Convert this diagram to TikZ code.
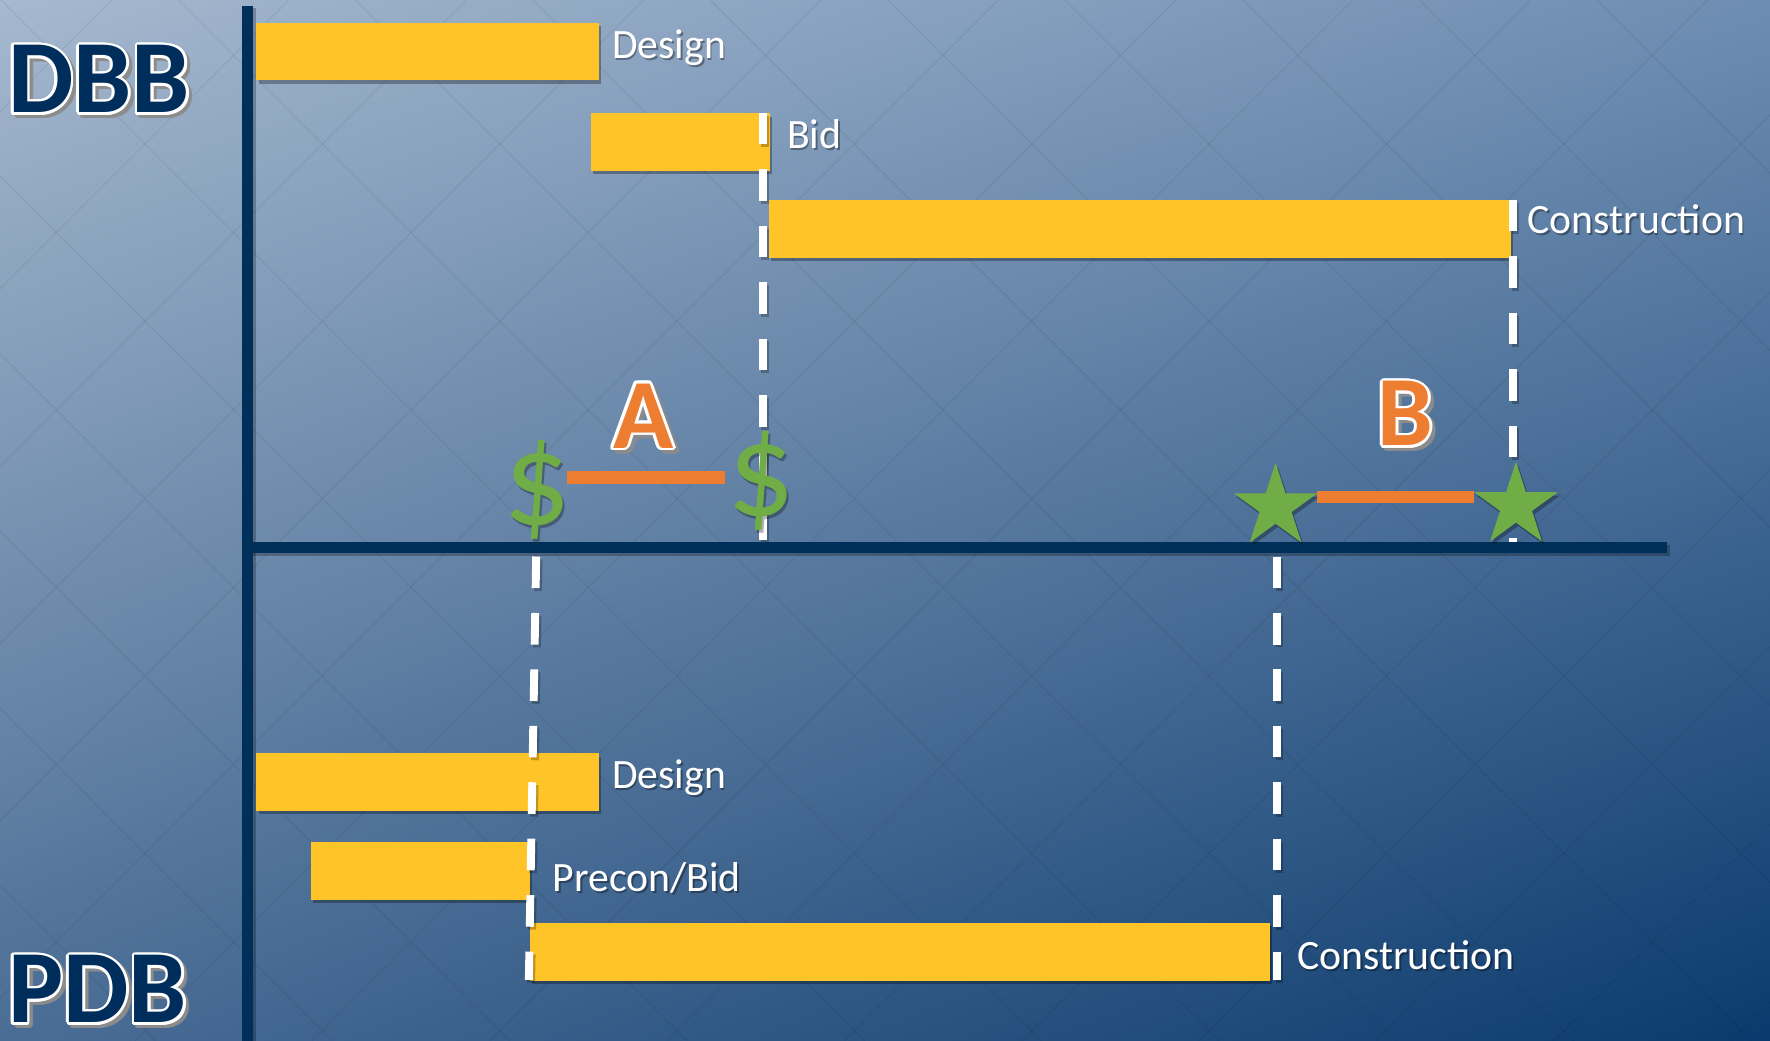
\documentclass[tikz,border=0pt]{standalone}
\usepackage{fontspec}
\setmainfont{Carlito}
\usetikzlibrary{shapes.geometric,shadows,shadings}
\definecolor{bgUL}{HTML}{A5B8CE}
\definecolor{bgUR}{HTML}{6E8DB2}
\definecolor{bgLL}{HTML}{4A6D95}
\definecolor{bgLR}{HTML}{0A3A6D}
\definecolor{barcol}{HTML}{FFC427}
\definecolor{axiscol}{HTML}{00305A}
\definecolor{navytext}{HTML}{002E5C}
\definecolor{orng}{HTML}{ED7D31}
\definecolor{grn}{HTML}{70AD47}
\tikzset{
  lat/.style={black, opacity=0.06, line width=1.1pt},
  barbox/.style={fill=barcol, draw=none, inner sep=0, anchor=north west,
     drop shadow={shadow xshift=2pt, shadow yshift=-3pt, opacity=0.3, fill=black}},
  lbl/.style={text=white, font=\fontsize{37}{37}\selectfont, inner sep=0, anchor=base west, text depth=0pt},
  lblshadow/.style={text=black, opacity=0.35, font=\fontsize{37}{37}\selectfont, inner sep=0, anchor=base west, text depth=0pt},
  dashline/.style={white, line width=7pt, dash pattern=on 28pt off 22pt},
  dashshadow/.style={black, opacity=0.25, line width=7pt, dash pattern=on 28pt off 22pt},
  axisline/.style={axiscol, line width=10pt},
  axisshadow/.style={black, opacity=0.25, line width=10pt},
  orngbar/.style={orng, line width=12pt},
  starshape/.style={star, star points=5, star point ratio=2.618, minimum size=78pt,
     inner sep=0, fill=grn, draw=none,
     drop shadow={shadow xshift=2pt, shadow yshift=-3pt, opacity=0.3, fill=black}},
  dollar/.style={text=grn, font=\fontsize{118}{118}\selectfont, inner sep=0},
  dollarshadow/.style={text=black, opacity=0.3, font=\fontsize{118}{118}\selectfont, inner sep=0},
}
\newcommand\outlinedtext[7]{%
  \foreach \a in {0,30,...,330}
    \node[anchor=#7, inner sep=0, font=#5, text=black!45, opacity=0.8, text depth=0pt,
          xshift={3+2.4*cos(\a)}, yshift={-3+2.4*sin(\a)}] (#1-s\a) at (#2,#3) {#6};
  \foreach \a in {0,30,...,330}
    \node[anchor=#7, inner sep=0, font=#5, text=white, text depth=0pt,
          xshift={2.4*cos(\a)}, yshift={2.4*sin(\a)}] (#1-w\a) at (#2,#3) {#6};
  \node[anchor=#7, inner sep=0, font=#5, text=#4, text depth=0pt] (#1) at (#2,#3) {#6};
}
\newcommand\lab[4]{%
  \node[lblshadow, xshift=1.5pt, yshift=-1.5pt] (#1-sh) at (#2,#3) {#4};
  \node[lbl] (#1) at (#2,#3) {#4};
}
\begin{document}
\begin{tikzpicture}[x=1pt,y=-1pt]
\useasboundingbox (0,0) rectangle (1568,922);
\shade[upper left=bgUL, upper right=bgUR, lower left=bgLL, lower right=bgLR] (0,0) rectangle (1568,922);
% diamond lattice
\begin{scope}
  \clip (0,0) rectangle (1568,922);
  \foreach \k in {-6,...,10} { \draw[lat] ({0.9+157.1*\k},0) -- ({0.9+157.1*\k+922},922); }
  \foreach \k in {-2,...,15} { \draw[lat] ({256+157.1*\k},0) -- ({256+157.1*\k-922},922); }
\end{scope}

% bars (DBB)
\node[barbox, minimum width=303pt, minimum height=51pt] (dDesign) at (227,20) {};
\node[barbox, minimum width=158pt, minimum height=51pt] (dBid) at (523.5,100) {};
\node[barbox, minimum width=657pt, minimum height=51pt] (dCons) at (681,177) {};
% bars (PDB)
\node[barbox, minimum width=303pt, minimum height=51pt] (pDesign) at (227,667) {};
\node[barbox, minimum width=194pt, minimum height=51pt] (pBid) at (275,746) {};
\node[barbox, minimum width=656pt, minimum height=51pt] (pCons) at (469,817.5) {};

% dashed guide lines
\coordinate (g1a) at (676,100);   \coordinate (g1b) at (676,480);
\coordinate (g2a) at (1340.5,177); \coordinate (g2b) at (1340.5,484);
\coordinate (g3a) at (475,493);   \coordinate (g3b) at (468.5,868);
\coordinate (g4a) at (1131.5,493); \coordinate (g4b) at (1131.5,868);
\foreach \p in {1,2,3,4} {
  \draw[dashshadow, transform canvas={shift={(2pt,-2.5pt)}}] (g\p a) -- (g\p b);
  \draw[dashline] (g\p a) -- (g\p b);
}

% axes
\coordinate (vTop) at (219,5);   \coordinate (vBot) at (219,925);
\coordinate (hL) at (214,485);   \coordinate (hR) at (1477,485);
\draw[axisshadow, transform canvas={shift={(2.5pt,-2.5pt)}}] (vTop) -- (vBot);
\draw[axisshadow, transform canvas={shift={(2.5pt,-2.5pt)}}] (hL) -- (hR);
\draw[axisline] (vTop) -- (vBot);
\draw[axisline] (hL) -- (hR);

% milestones
\node[dollarshadow, xshift=2pt, yshift=-2.5pt] (d1s) at (476,434) {\$};
\node[dollar] (d1) at (476,434) {\$};
\node[dollarshadow, xshift=2pt, yshift=-2.5pt] (d2s) at (674,426) {\$};
\node[dollar] (d2) at (674,426) {\$};
\node[starshape] (s1) at (1130,449) {};
\node[starshape] (s2) at (1343,448) {};
\coordinate (a1) at (502,423); \coordinate (a2) at (642,423);
\coordinate (b1) at (1167,440.5); \coordinate (b2) at (1306,440.5);
\draw[orngbar] (a1) -- (a2);
\draw[orngbar, line width=11pt] (b1) -- (b2);

% labels
\lab{tDesign}{542}{51.7}{Design}
\lab{tBid}{697}{131.5}{Bid}
\lab{tCons}{1353}{206.7}{Construction}
\lab{bDesign}{542}{698.4}{Design}
\lab{bBid}{489.5}{790}{Precon/Bid}
\lab{bCons}{1149}{858.7}{Construction}

% big outlined letters
\outlinedtext{dbb}{7}{100}{navytext}{\fontsize{92}{92}\bfseries\selectfont}{DBB}{base west}
\outlinedtext{pdb}{7}{906}{navytext}{\fontsize{92}{92}\bfseries\selectfont}{PDB}{base west}
\outlinedtext{lA}{570}{397}{orng}{\fontsize{88}{88}\bfseries\selectfont}{A}{base}
\outlinedtext{lB}{1245}{395}{orng}{\fontsize{88}{88}\bfseries\selectfont}{B}{base}
\end{tikzpicture}
\end{document}
